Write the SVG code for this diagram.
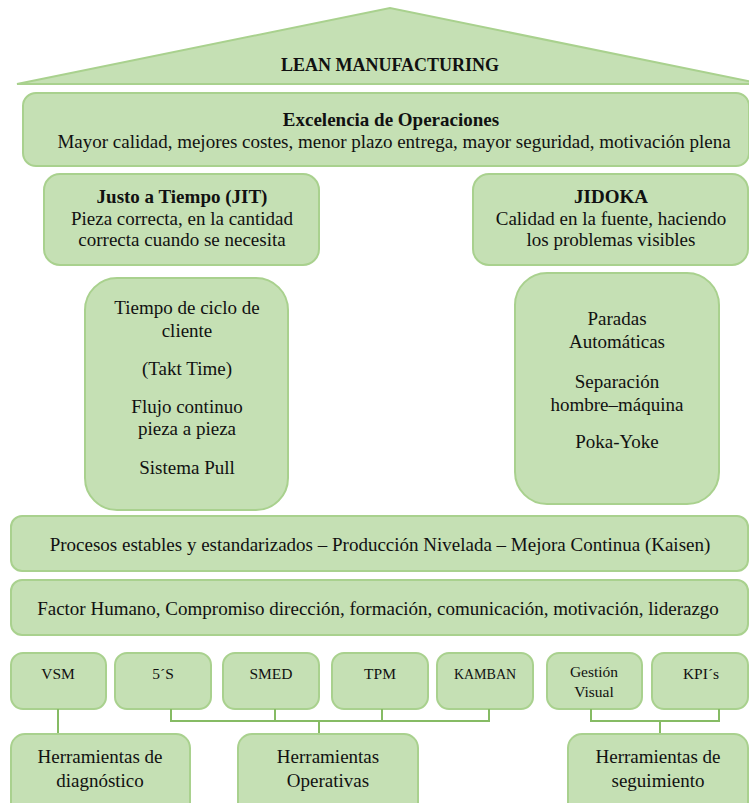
<svg xmlns="http://www.w3.org/2000/svg" width="749" height="803" viewBox="0 0 749 803" font-family="'Liberation Serif', 'DejaVu Serif', serif">
  <style>
    .box { fill: #c5e0b4; stroke: #a9d18e; stroke-width: 2; }
    text { font-family: 'Liberation Serif', 'DejaVu Serif', serif; fill: #111; text-anchor: middle; }
    .r { font-size: 19px; }
    .b { font-size: 19px; font-weight: bold; }
    .s { font-size: 15.5px; }
    .k { font-size: 14px; }
    .wire { fill: none; stroke: #86bb64; stroke-width: 2; }
  </style>
  <rect width="749" height="803" fill="#ffffff"/>

  <!-- Roof -->
  <g id="roof">
    <polygon class="box" points="17,84 390,8 762,84"/>
    <text x="390" y="71" font-size="18" font-weight="bold">LEAN MANUFACTURING</text>
  </g>

  <!-- Goal bar -->
  <g id="excelencia">
    <rect class="box" x="23" y="93" width="726" height="73" rx="13"/>
    <text class="b" x="391" y="126">Excelencia de Operaciones</text>
    <text class="r" x="394" y="148">Mayor calidad, mejores costes, menor plazo entrega, mayor seguridad, motivación plena</text>
  </g>

  <!-- Pillar heads -->
  <g id="jit">
    <rect class="box" x="44" y="174" width="275" height="91" rx="16"/>
    <text class="b" x="182" y="203">Justo a Tiempo (JIT)</text>
    <text class="r" x="182" y="225">Pieza correcta, en la cantidad</text>
    <text class="r" x="182" y="246">correcta cuando se necesita</text>
  </g>
  <g id="jidoka">
    <rect class="box" x="473" y="174" width="275" height="91" rx="16"/>
    <text class="b" x="611" y="203">JIDOKA</text>
    <text class="r" x="611" y="225">Calidad en la fuente, haciendo</text>
    <text class="r" x="611" y="246">los problemas visibles</text>
  </g>

  <!-- Pillars -->
  <g id="pilar-jit">
    <rect class="box" x="85" y="278" width="203" height="232" rx="32"/>
    <text class="r" x="187" y="314">Tiempo de ciclo de</text>
    <text class="r" x="187" y="337">cliente</text>
    <text class="r" x="187" y="375">(Takt Time)</text>
    <text class="r" x="187" y="413">Flujo continuo</text>
    <text class="r" x="187" y="435">pieza a pieza</text>
    <text class="r" x="187" y="474">Sistema Pull</text>
  </g>
  <g id="pilar-jidoka">
    <rect class="box" x="515" y="273" width="204" height="231" rx="32"/>
    <text class="r" x="617" y="325">Paradas</text>
    <text class="r" x="617" y="348">Automáticas</text>
    <text class="r" x="617" y="388">Separación</text>
    <text class="r" x="617" y="411">hombre–máquina</text>
    <text class="r" x="617" y="448">Poka-Yoke</text>
  </g>

  <!-- Foundations -->
  <g id="procesos">
    <rect class="box" x="11" y="516" width="737" height="55" rx="11"/>
    <text class="r" x="380" y="551">Procesos estables y estandarizados – Producción Nivelada – Mejora Continua (Kaisen)</text>
  </g>
  <g id="factor">
    <rect class="box" x="11" y="580" width="737" height="55" rx="11"/>
    <text class="r" x="378" y="615">Factor Humano, Compromiso dirección, formación, comunicación, motivación, liderazgo</text>
  </g>

  <!-- Tools -->
  <g id="vsm">
    <rect class="box" x="11" y="653" width="95" height="56" rx="12"/>
    <text class="s" x="58" y="679">VSM</text>
  </g>
  <g id="cinco-s">
    <rect class="box" x="115" y="653" width="96" height="56" rx="12"/>
    <text class="s" x="163" y="679">5´S</text>
  </g>
  <g id="smed">
    <rect class="box" x="223" y="653" width="96" height="56" rx="12"/>
    <text class="s" x="271" y="679">SMED</text>
  </g>
  <g id="tpm">
    <rect class="box" x="332" y="653" width="96" height="56" rx="12"/>
    <text class="s" x="380" y="679">TPM</text>
  </g>
  <g id="kamban">
    <rect class="box" x="437" y="653" width="96" height="56" rx="12"/>
    <text class="k" x="485" y="679">KAMBAN</text>
  </g>
  <g id="gestion-visual">
    <rect class="box" x="547" y="653" width="95" height="56" rx="12"/>
    <text class="s" x="594" y="677">Gestión</text>
    <text class="s" x="594" y="697">Visual</text>
  </g>
  <g id="kpis">
    <rect class="box" x="652" y="653" width="96" height="56" rx="12"/>
    <text class="s" x="701" y="679">KPI´s</text>
  </g>

  <!-- Connectors -->
  <g id="connectors">
    <path class="wire" d="M58,709 V734"/>
    <path class="wire" d="M171,709 V721 H489 V709 M275,709 V721 M382,709 V721 M319,721 V734"/>
    <path class="wire" d="M591,709 V721 H719 V709 M660,721 V734"/>
  </g>

  <!-- Tool groups -->
  <g id="diagnostico">
    <rect class="box" x="11" y="734" width="179" height="90" rx="14"/>
    <text class="r" x="100" y="763">Herramientas de</text>
    <text class="r" x="100" y="787">diagnóstico</text>
  </g>
  <g id="operativas">
    <rect class="box" x="238" y="734" width="180" height="90" rx="14"/>
    <text class="r" x="328" y="763">Herramientas</text>
    <text class="r" x="328" y="787">Operativas</text>
  </g>
  <g id="seguimiento">
    <rect class="box" x="568" y="734" width="180" height="90" rx="14"/>
    <text class="r" x="658" y="763">Herramientas de</text>
    <text class="r" x="658" y="787">seguimiento</text>
  </g>
</svg>
